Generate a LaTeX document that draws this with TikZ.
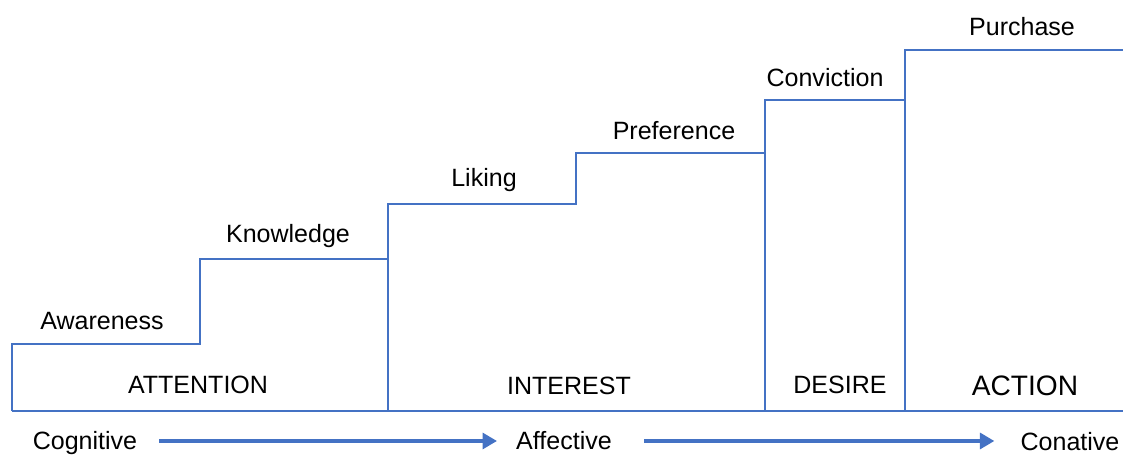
\documentclass[tikz,border=0pt]{standalone}
\usepackage{fontspec}
\setmainfont{Liberation Sans}
\usetikzlibrary{arrows.meta,positioning}
\definecolor{stepblue}{RGB}{68,114,196}

\begin{document}
\begin{tikzpicture}[x=0.025cm, y=-0.025cm]
\tikzstyle{stair}=[draw=stepblue, line width=1.4pt]
\tikzstyle{lbl}=[inner sep=0pt, anchor=base, text height=15pt, text depth=3.6pt, font=\fontsize{17.8pt}{21pt}\selectfont]
\tikzstyle{flow}=[stepblue, line width=2.3pt, -{Triangle[length=0.36cm,width=0.4cm]}]

\useasboundingbox (0,0) rectangle (1123,454);

% staircase
\draw [stair] (12,411) -- (12,344) -- (200,344) -- (200,259) -- (388,259);
\draw [stair] (388,411) -- (388,204) -- (576,204) -- (576,153) -- (765,153);
\draw [stair] (765,411) -- (765,100) -- (905,100);
\draw [stair] (905,411) -- (905,50) -- (1123,50);
\draw [stair] (12,411) -- (1123,411);

% steps
\node [lbl] (aware) at (102,329) {Awareness};
\node [lbl] (know) at (288,242) {Knowledge};
\node [lbl] (like) at (484,186) {Liking};
\node [lbl] (pref) at (674,139) {Preference};
\node [lbl] (conv) at (825,86) {Conviction};
\node [lbl] (purch) at (1022,35) {Purchase};

% stages
\node [lbl] (att) at (198,393) {ATTENTION};
\node [lbl] (intr) at (569,394) {INTEREST};
\node [lbl] (des) at (840,393) {DESIRE};
\node [lbl, font=\fontsize{20pt}{24pt}\selectfont] (act) at (1025,395) {ACTION};

% hierarchy
\node [lbl] (cog) at (85,449) {Cognitive};
\node [lbl] (aff) at (564,449) {Affective};
\node [lbl] (con) at (1070,450) {Conative};

\draw [flow, shorten <=0.55cm, shorten >=0.475cm] (cog.east) -- (aff.west);
\draw [flow, shorten <=0.8cm, shorten >=0.65cm] (aff.east) -- (aff.east -| con.west);

\end{tikzpicture}
\end{document}
